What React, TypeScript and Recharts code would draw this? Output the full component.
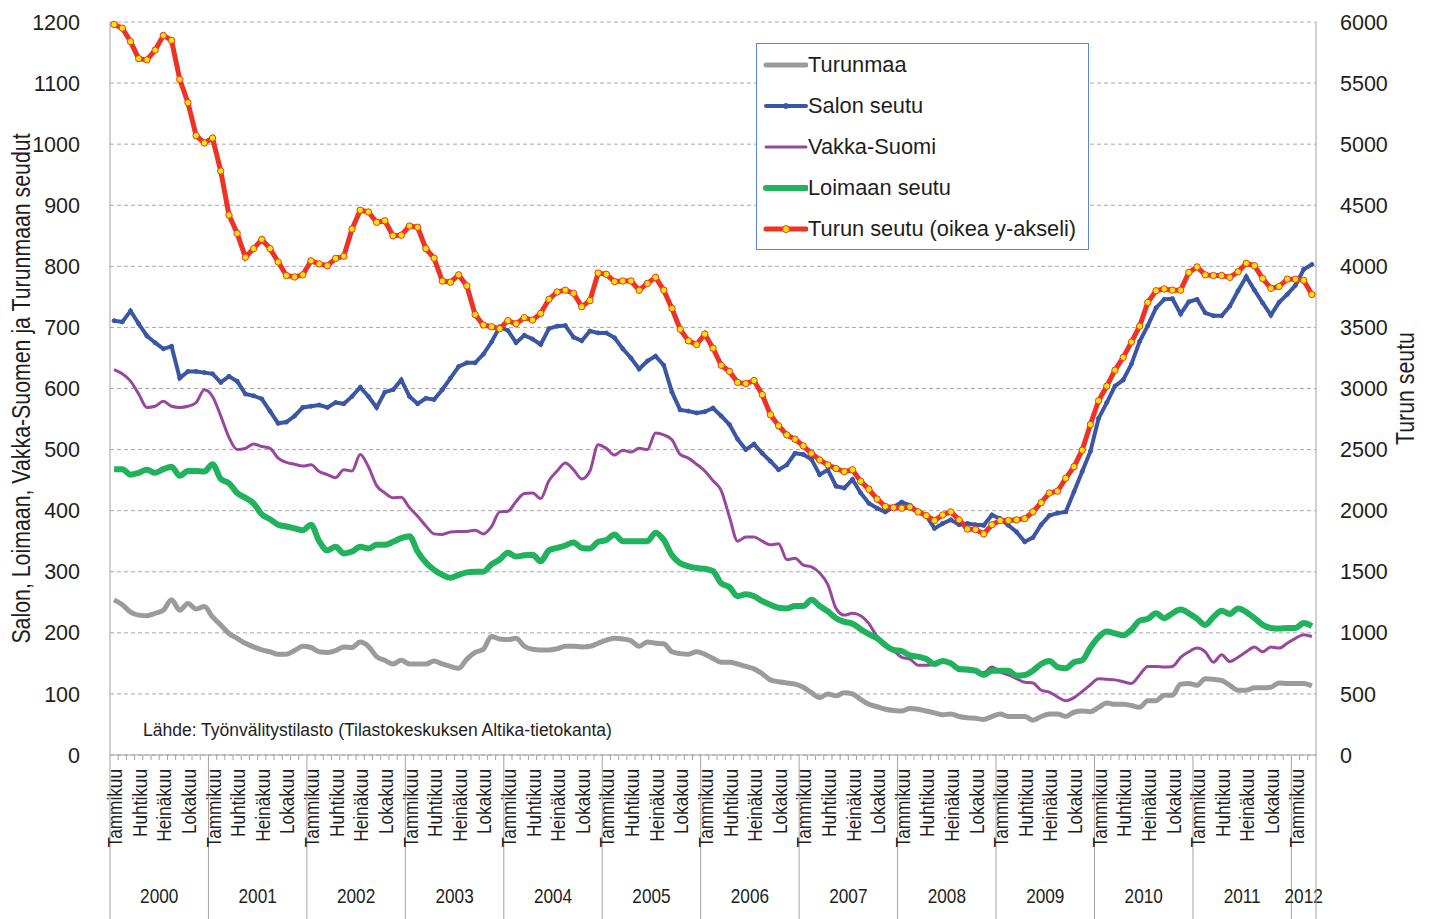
import React from 'react';
import { LineChart, Line, XAxis, YAxis, CartesianGrid, Legend } from 'recharts';

// Years on the category axis and how many months each one has in the data
const years = ['2000', '2001', '2002', '2003', '2004', '2005', '2006', '2007', '2008', '2009', '2010', '2011', '2012'];
const monthsPerYear = [12, 12, 12, 12, 12, 12, 12, 12, 12, 12, 12, 12, 3];
const quarterMonths = ['Tammikuu', 'Huhtikuu', 'Heinäkuu', 'Lokakuu'];

const leftTicks = [0, 100, 200, 300, 400, 500, 600, 700, 800, 900, 1000, 1100, 1200];
const rightTicks = [0, 500, 1000, 1500, 2000, 2500, 3000, 3500, 4000, 4500, 5000, 5500, 6000];

// monthly values, Jan 2000 - Mar 2012
const turunmaa = [
  254, 246, 234, 229, 228, 232, 237, 254, 237, 248, 239, 243,
  226, 213, 199, 191, 183, 177, 172, 169, 165, 165, 171, 178,
  176, 169, 168, 171, 177, 176, 185, 178, 161, 155, 149, 155,
  149, 149, 149, 154, 149, 145, 142, 157, 168, 173, 194, 190,
  189, 191, 178, 173, 172, 172, 174, 178, 178, 177, 178, 183,
  188, 191, 190, 187, 178, 185, 183, 182, 169, 166, 165, 169,
  165, 158, 152, 152, 149, 145, 141, 133, 123, 120, 118, 116,
  111, 102, 94, 100, 97, 102, 100, 91, 83, 79, 75, 73,
  72, 76, 75, 72, 69, 66, 67, 63, 61, 60, 58, 63,
  67, 63, 63, 63, 57, 63, 67, 67, 63, 70, 72, 71,
  78, 85, 83, 83, 81, 78, 89, 89, 98, 98, 116, 117,
  114, 125, 124, 122, 114, 106, 106, 110, 110, 111, 118, 117,
  117, 117, 113,
];

const salonSeutu = [
  711, 709, 727, 706, 686, 675, 665, 669, 617, 628, 628, 626,
  624, 610, 620, 612, 591, 588, 583, 563, 543, 545, 555, 569,
  571, 573, 569, 577, 575, 587, 602, 587, 569, 594, 598, 614,
  587, 575, 584, 582, 598, 617, 636, 642, 642, 656, 676, 701,
  695, 675, 687, 681, 672, 698, 702, 703, 684, 678, 694, 691,
  691, 683, 665, 650, 632, 645, 653, 638, 594, 565, 563, 560,
  562, 568, 555, 541, 517, 500, 509, 494, 481, 467, 475, 494,
  492, 484, 459, 467, 440, 437, 451, 429, 412, 404, 398, 406,
  414, 409, 398, 392, 371, 379, 385, 377, 379, 377, 376, 393,
  387, 376, 365, 349, 356, 377, 392, 396, 398, 431, 464, 497,
  551, 577, 604, 614, 640, 677, 703, 732, 746, 747, 722, 742,
  746, 724, 719, 719, 735, 760, 783, 761, 740, 720, 741, 754,
  769, 795, 803,
];

const vakkaSuomi = [
  631, 624, 612, 591, 569, 571, 579, 571, 569, 571, 577, 598,
  587, 555, 520, 500, 502, 509, 505, 502, 486, 479, 476, 473,
  475, 464, 459, 454, 467, 465, 492, 472, 441, 429, 421, 422,
  405, 391, 375, 362, 361, 365, 366, 366, 368, 362, 374, 398,
  399, 415, 428, 429, 420, 449, 465, 478, 467, 452, 465, 508,
  502, 491, 499, 496, 502, 500, 527, 524, 516, 492, 486, 476,
  465, 449, 433, 390, 350, 357, 357, 350, 344, 346, 320, 322,
  311, 308, 298, 279, 240, 229, 232, 228, 215, 194, 180, 171,
  160, 157, 147, 147, 149, 155, 152, 138, 138, 136, 135, 144,
  136, 131, 125, 119, 118, 106, 103, 95, 89, 94, 104, 115,
  125, 124, 123, 120, 117, 131, 145, 145, 144, 145, 160, 169,
  175, 169, 152, 164, 153, 160, 169, 177, 169, 177, 175, 183,
  191, 197, 194,
];

const loimaanSeutu = [
  468, 468, 459, 462, 467, 462, 468, 472, 457, 465, 465, 464,
  476, 452, 445, 429, 421, 412, 394, 386, 377, 374, 371, 368,
  377, 350, 335, 341, 330, 333, 341, 338, 344, 344, 349, 355,
  358, 333, 315, 303, 295, 290, 295, 299, 300, 300, 312, 320,
  331, 325, 327, 328, 317, 335, 339, 343, 348, 339, 338, 349,
  352, 361, 350, 350, 350, 350, 364, 352, 327, 314, 309, 306,
  305, 301, 281, 275, 260, 263, 260, 252, 246, 241, 240, 244,
  244, 254, 244, 235, 224, 218, 215, 206, 198, 191, 180, 172,
  170, 163, 161, 157, 149, 154, 150, 141, 140, 138, 131, 138,
  138, 138, 130, 131, 138, 149, 154, 144, 142, 152, 155, 176,
  193, 202, 199, 196, 205, 220, 223, 232, 224, 232, 238, 232,
  223, 213, 226, 236, 231, 240, 234, 224, 213, 208, 207, 208,
  208, 216, 211,
];

const turunSeutu = [
  5980, 5950, 5840, 5700, 5690, 5770, 5890, 5850, 5530, 5340, 5070, 5010,
  5050, 4780, 4420, 4270, 4075, 4145, 4220, 4145, 4035, 3925, 3913, 3930,
  4045, 4020, 4005, 4065, 4083, 4305, 4460, 4445, 4360, 4373, 4250, 4255,
  4330, 4320, 4145, 4067, 3880, 3870, 3930, 3840, 3605, 3520, 3505, 3490,
  3555, 3530, 3580, 3560, 3615, 3730, 3790, 3805, 3780, 3670, 3720, 3945,
  3935, 3875, 3880, 3880, 3805, 3860, 3910, 3805, 3655, 3485, 3390, 3360,
  3445, 3330, 3190, 3140, 3050, 3040, 3065, 2950, 2785, 2695, 2620, 2585,
  2530, 2470, 2415, 2375, 2345, 2320, 2335, 2240, 2175, 2095, 2035, 2025,
  2020, 2030, 1990, 1960, 1920, 1965, 1990, 1925, 1850, 1845, 1810, 1885,
  1920, 1920, 1925, 1935, 1990, 2065, 2145, 2160, 2265, 2360, 2495, 2705,
  2900, 3020, 3150, 3255, 3380, 3510, 3705, 3800, 3815, 3805, 3805, 3950,
  3995, 3930, 3925, 3925, 3910, 3955, 4025, 4005, 3900, 3820, 3835, 3895,
  3895, 3885, 3770,
];

const ARIAL = "'Liberation Sans', Arial, sans-serif";
const AXIS_GREY = '#a3a3a3';
const TEXT = '#1e1e1e';
const NARROW_SCALE = 0.82; // no narrow font installed, so squeeze Liberation Sans

const data = turunmaa.map((v, i) => ({
  m: i,
  turunmaa: v,
  salo: salonSeutu[i],
  vakka: vakkaSuomi[i],
  loimaa: loimaanSeutu[i],
  turku: turunSeutu[i],
}));

const yearStarts: number[] = [];
let acc = 0;
monthsPerYear.forEach((n) => {
  yearStarts.push(acc);
  acc += n;
});
const totalMonths = acc;

// ticks at every month centre and every month boundary
const xTicks: number[] = [];
for (let k = 0; k <= 2 * totalMonths; k++) xTicks.push(k / 2 - 0.5);

// condensed text, optionally rotated -90 around its anchor
const NarrowText = ({ x, y, rotate, size, anchor, children }: any) => {
  const t = `translate(${x} ${y})${rotate ? ' rotate(-90)' : ''} scale(${NARROW_SCALE} 1)`;
  return (
    <text x={0} y={0} transform={t} textAnchor={anchor} dominantBaseline="central"
      fontFamily={ARIAL} fontSize={size} fill={TEXT}>
      {children}
    </text>
  );
};

const MonthTick = (props: any) => {
  const { x, y, payload } = props;
  const v: number = payload.value;
  const parts: React.ReactNode[] = [];
  if (!Number.isInteger(v)) {
    const k = v + 0.5;
    const yearEdge = k === totalMonths || yearStarts.includes(k);
    parts.push(<line key="t" x1={x} x2={x} y1={y} y2={y + (yearEdge ? 164 : 5)} stroke={AXIS_GREY} strokeWidth={1} />);
  } else if (v % 3 === 0) {
    parts.push(
      <NarrowText key="m" x={x + 1} y={y + 14} rotate size={21} anchor="end">
        {quarterMonths[(v % 12) / 3]}
      </NarrowText>
    );
  }
  yearStarts.forEach((s, j) => {
    if (s - 0.5 + monthsPerYear[j] / 2 === v) {
      parts.push(
        <NarrowText key={'y' + j} x={x} y={y + 141} size={21} anchor="middle">
          {years[j]}
        </NarrowText>
      );
    }
  });
  return <g>{parts}</g>;
};

const legendItems = [
  { name: 'Turunmaa', color: '#9b9b9b', width: 5, dot: null as null | { r: number; fill: string } },
  { name: 'Salon seutu', color: '#3a56a5', width: 4, dot: { r: 2.5, fill: '#3a56a5' } },
  { name: 'Vakka-Suomi', color: '#98479f', width: 3, dot: null },
  { name: 'Loimaan seutu', color: '#20b25c', width: 6, dot: null },
  { name: 'Turun seutu (oikea y-akseli)', color: '#ee3326', width: 5, dot: { r: 3.5, fill: '#ffe600' } },
];

const LegendBox = () => (
  <div style={{ width: 333, height: 207, boxSizing: 'border-box', border: '1px solid #5b87cc', background: '#fff' }}>
    {legendItems.map((it) => (
      <div key={it.name} style={{ display: 'flex', alignItems: 'center', height: 41.2 }}>
        <svg width={51} height={20} style={{ flex: 'none' }}>
          <line x1={9} x2={49} y1={10} y2={10} stroke={it.color} strokeWidth={it.width} strokeLinecap="round" />
          {it.dot && <circle cx={29} cy={10} r={it.dot.r} fill={it.dot.fill} stroke={it.color} strokeWidth={1} />}
        </svg>
        <span style={{ fontFamily: ARIAL, fontSize: 21.8, color: TEXT, whiteSpace: 'nowrap' }}>{it.name}</span>
      </div>
    ))}
  </div>
);

const LeftTitle = (props: any) => {
  const vb = props.viewBox;
  return (
    <NarrowText x={vb.x + 21} y={vb.y + vb.height / 2} rotate size={26} anchor="middle">
      Salon, Loimaan, Vakka-Suomen ja Turunmaan seudut
    </NarrowText>
  );
};

const RightTitle = (props: any) => {
  const vb = props.viewBox;
  return (
    <NarrowText x={vb.x + vb.width - 27} y={vb.y + vb.height / 2} rotate size={26} anchor="middle">
      Turun seutu
    </NarrowText>
  );
};

export default function App() {
  return (
    <div style={{ position: 'absolute', left: 0, top: 0, width: 1432, height: 919, background: '#fff' }}>
      <LineChart width={1432} height={919} data={data} margin={{ top: 22, right: 0, bottom: 0, left: 0 }}>
        <CartesianGrid yAxisId="left" vertical={false} strokeDasharray="4 3" stroke="#a8a8a8" />
        <XAxis
          dataKey="m"
          type="number"
          domain={[-0.5, totalMonths - 0.5]}
          ticks={xTicks}
          interval={0}
          tick={<MonthTick />}
          tickLine={false}
          tickSize={0}
          tickMargin={0}
          axisLine={{ stroke: AXIS_GREY }}
          height={164}
        />
        <YAxis
          yAxisId="left"
          domain={[0, 1200]}
          ticks={leftTicks}
          interval={0}
          width={110}
          axisLine={{ stroke: AXIS_GREY }}
          tickLine={false}
          tickSize={0}
          tickMargin={30}
          tick={{ fontSize: 21.5, fill: TEXT, fontFamily: ARIAL }}
          label={LeftTitle}
        />
        <YAxis
          yAxisId="right"
          orientation="right"
          domain={[0, 6000]}
          ticks={rightTicks}
          interval={0}
          width={116}
          axisLine={{ stroke: AXIS_GREY }}
          tickLine={false}
          tickSize={0}
          tickMargin={24}
          tick={{ fontSize: 21.5, fill: TEXT, fontFamily: ARIAL }}
          label={RightTitle}
        />
        <Legend
          layout="vertical"
          align="center"
          verticalAlign="middle"
          wrapperStyle={{ left: 756, top: 43, width: 333, height: 207 }}
          content={() => <LegendBox />}
        />
        <Line yAxisId="left" dataKey="turunmaa" name="Turunmaa" type="monotone" stroke="#9b9b9b" strokeWidth={5}
          dot={false} activeDot={false} isAnimationActive={false} />
        <Line yAxisId="left" dataKey="salo" name="Salon seutu" type="linear" stroke="#3a56a5" strokeWidth={4}
          dot={{ r: 2, fill: '#3a56a5', stroke: '#3a56a5', strokeWidth: 1 }} activeDot={false} isAnimationActive={false} />
        <Line yAxisId="left" dataKey="vakka" name="Vakka-Suomi" type="monotone" stroke="#98479f" strokeWidth={3}
          dot={false} activeDot={false} isAnimationActive={false} />
        <Line yAxisId="left" dataKey="loimaa" name="Loimaan seutu" type="monotone" stroke="#20b25c" strokeWidth={6}
          dot={false} activeDot={false} isAnimationActive={false} />
        <Line yAxisId="right" dataKey="turku" name="Turun seutu (oikea y-akseli)" type="linear" stroke="#ee3326" strokeWidth={5}
          dot={{ r: 3.2, fill: '#ffe600', stroke: '#ee3326', strokeWidth: 1 }} activeDot={false} isAnimationActive={false} />
      </LineChart>
      <div style={{ position: 'absolute', left: 143, top: 720, fontFamily: ARIAL, fontSize: 17.5, color: TEXT, whiteSpace: 'nowrap' }}>
        Lähde: Työnvälitystilasto (Tilastokeskuksen Altika-tietokanta)
      </div>
    </div>
  );
}
